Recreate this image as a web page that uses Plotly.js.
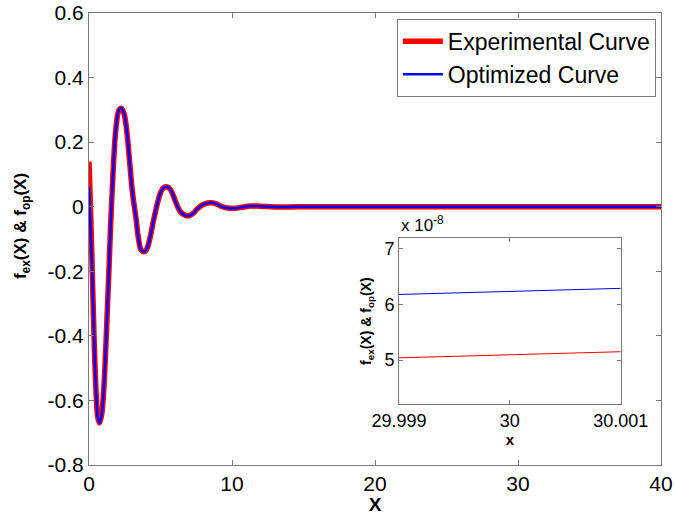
<!DOCTYPE html>
<html><head><meta charset="utf-8">
<script src="https://cdn.plot.ly/plotly-3.0.1.min.js"></script>
<style>html,body{margin:0;padding:0;background:#fff;}#plot{width:674px;height:515px;}</style>
</head><body><div id="plot"></div>
<script>
// Main curve (shared x samples)
var xMain = [0, 0.1, 0.2, 0.3, 0.4, 0.5, 0.6, 0.74, 0.9, 1.0, 1.1, 1.2, 1.3, 1.4, 1.5, 1.6, 1.7, 1.8, 1.9, 2.0, 2.1, 2.25, 2.4, 2.5, 2.6, 2.7, 2.8, 2.9, 3.0, 3.17, 3.3, 3.4, 3.5, 3.6, 3.75, 3.9, 4.1, 4.3, 4.5, 4.7, 4.9, 5.1, 5.25, 5.4, 5.6, 5.8, 6.0, 6.2, 6.4, 6.7, 7.0, 7.3, 7.5, 7.75, 8.0, 8.3, 8.6, 8.9, 9.3, 9.7, 10.1, 10.5, 10.9, 11.3, 11.7, 12.2, 12.7, 13.3, 14, 15, 20, 25, 30, 35, 40];
var yExp  = [0.14, 0.0, -0.15, -0.32, -0.47, -0.58, -0.65, -0.67, -0.64, -0.59, -0.51, -0.41, -0.30, -0.19, -0.07, 0.03, 0.12, 0.20, 0.25, 0.285, 0.30, 0.305, 0.295, 0.28, 0.25, 0.21, 0.16, 0.11, 0.06, 0.0, -0.04, -0.08, -0.11, -0.13, -0.138, -0.139, -0.125, -0.09, -0.045, -0.005, 0.03, 0.052, 0.06, 0.062, 0.058, 0.045, 0.022, 0.0, -0.016, -0.026, -0.028, -0.02, -0.01, 0.0, 0.007, 0.0115, 0.0125, 0.009, 0.0, -0.004, -0.005, -0.003, 0.0, 0.002, 0.0023, 0.001, 0.0, -0.001, -0.0008, 0, 0, 0, 0, 0, 0];
var yOpt  = [0.06, -0.06, -0.17, -0.32, -0.47, -0.58, -0.65, -0.67, -0.64, -0.59, -0.51, -0.41, -0.30, -0.19, -0.07, 0.03, 0.12, 0.20, 0.25, 0.285, 0.30, 0.305, 0.295, 0.28, 0.25, 0.21, 0.16, 0.11, 0.06, 0.0, -0.04, -0.08, -0.11, -0.13, -0.138, -0.139, -0.125, -0.09, -0.045, -0.005, 0.03, 0.052, 0.06, 0.062, 0.058, 0.045, 0.022, 0.0, -0.016, -0.026, -0.028, -0.02, -0.01, 0.0, 0.007, 0.0115, 0.0125, 0.009, 0.0, -0.004, -0.005, -0.003, 0.0, 0.002, 0.0023, 0.001, 0.0, -0.001, -0.0008, 0, 0, 0, 0, 0, 0];
// Inset (values in units of 1e-8)
var xInset = [29.999, 30.001];
var yExpInset = [5.04, 5.15];
var yOptInset = [6.18, 6.29];
var seriesNames = ['Experimental Curve', 'Optimized Curve'];

var FONT = 'Liberation Sans, Arial, Helvetica, sans-serif';
var axisCol = '#7a7a7a';

var traces = [
  {x: xMain, y: yExp, name: seriesNames[0], mode: 'lines', line: {color: '#ff0000', width: 5.5, shape: 'spline', smoothing: 0.6}, xaxis: 'x', yaxis: 'y'},
  {x: xMain, y: yOpt, name: seriesNames[1], mode: 'lines', line: {color: '#0000ff', width: 2.5, shape: 'spline', smoothing: 0.6}, xaxis: 'x', yaxis: 'y'},
  {x: xInset, y: yExpInset, name: seriesNames[0], mode: 'lines', line: {color: '#ff0000', width: 1}, xaxis: 'x2', yaxis: 'y2', showlegend: false},
  {x: xInset, y: yOptInset, name: seriesNames[1], mode: 'lines', line: {color: '#0000ff', width: 1}, xaxis: 'x2', yaxis: 'y2', showlegend: false}
];

var layout = {
  width: 674, height: 515,
  margin: {l: 89, r: 13, t: 13, b: 50},
  paper_bgcolor: '#fff', plot_bgcolor: '#fff',
  font: {family: FONT, color: '#000', size: 21},
  showlegend: true,
  legend: {x: 0.991, xanchor: 'right', y: 0.987, yanchor: 'top', bgcolor: '#fff', bordercolor: axisCol, borderwidth: 1, font: {family: FONT, size: 23}, tracegroupgap: 0, itemwidth: 40},
  xaxis: {domain: [0, 1], range: [0, 40], tickvals: [0, 10, 20, 30, 40], ticktext: ['0', '10', '20', '30', '40'], ticks: 'inside', ticklen: 5, tickcolor: axisCol, showline: true, linecolor: axisCol, mirror: 'ticks', showgrid: false, zeroline: false, tickfont: {size: 21},
    title: {text: '<b>X</b>', font: {size: 19}, standoff: 2}},
  yaxis: {domain: [0, 1], range: [-0.8, 0.6], tickvals: [-0.8, -0.6, -0.4, -0.2, 0, 0.2, 0.4, 0.6], ticktext: ['-0.8', '-0.6', '-0.4', '-0.2', '0', '0.2', '0.4', '0.6'], ticks: 'inside', ticklen: 5, tickcolor: axisCol, showline: true, linecolor: axisCol, mirror: 'ticks', showgrid: false, zeroline: false, tickfont: {size: 21}},
  xaxis2: {domain: [0.542, 0.9296], anchor: 'y2', range: [29.999, 30.001], tickvals: [29.999, 30, 30.001], ticktext: ['29.999', '30', '30.001'], ticks: 'inside', ticklen: 4, tickcolor: axisCol, showline: true, linecolor: axisCol, mirror: 'ticks', showgrid: false, zeroline: false, tickfont: {size: 18},
    title: {text: '<b>x</b>', font: {size: 15}, standoff: 0}},
  yaxis2: {domain: [0.135, 0.5015], anchor: 'x2', range: [4.21, 7.19], tickvals: [5, 6, 7], ticktext: ['5', '6', '7'], ticks: 'inside', ticklen: 4, tickcolor: axisCol, showline: true, linecolor: axisCol, mirror: 'ticks', showgrid: false, zeroline: false, tickfont: {size: 18},
    title: {text: '<b>f<sub>ex</sub>(X) &amp; f<sub>op</sub>(X)</b>', font: {size: 14}, standoff: 9}},
  annotations: [
    {xref: 'paper', yref: 'paper', x: -0.117, y: 0.5288, xanchor: 'center', yanchor: 'middle', textangle: -90, showarrow: false, text: '<b>f<sub>ex</sub>(X) &amp; f<sub>op</sub>(X)</b>', font: {family: FONT, size: 17}},
    {xref: 'x2 domain', yref: 'y2 domain', x: 0, y: 1, xanchor: 'left', yanchor: 'bottom', yshift: 1, showarrow: false, text: 'x 10<sup>-8</sup>', font: {family: FONT, size: 17}}
  ]
};

Plotly.newPlot('plot', traces, layout, {staticPlot: true, displayModeBar: false});
</script></body></html>
